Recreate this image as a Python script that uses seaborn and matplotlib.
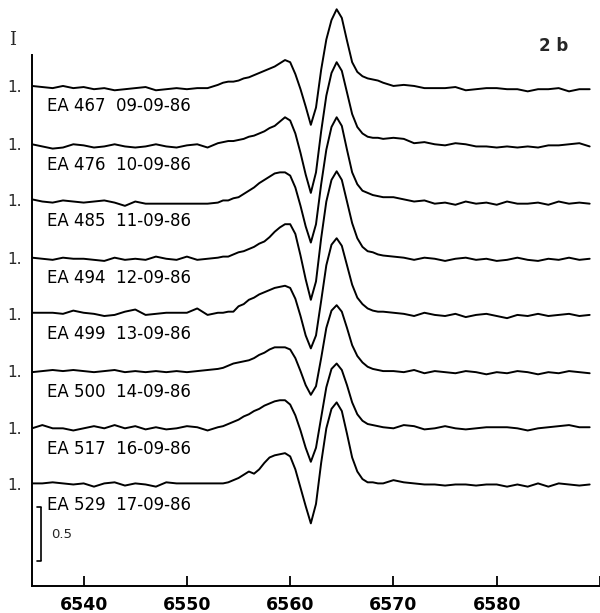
import numpy as np
import pandas as pd
import matplotlib
matplotlib.use("Agg")
import matplotlib.pyplot as plt
import seaborn as sns

# ---------------- data ----------------
wl_left = [6535, 6536, 6537, 6538, 6539, 6540, 6541, 6542, 6543, 6544,
           6545, 6546, 6547, 6548, 6549, 6550, 6551, 6552, 6553]
wl_line = [6553.5, 6554, 6554.5, 6555, 6555.5, 6556, 6556.5, 6557, 6557.5, 6558,
           6558.5, 6559, 6559.5, 6560, 6560.5, 6561, 6561.5, 6562, 6562.5, 6563,
           6563.5, 6564, 6564.5, 6565, 6565.5, 6566, 6566.5, 6567, 6567.5, 6568,
           6568.5, 6569]
wl_right = [6570, 6571, 6572, 6573, 6574, 6575, 6576, 6577, 6578, 6579,
            6580, 6581, 6582, 6583, 6584, 6585, 6586, 6587, 6588, 6589]
wavelength = wl_left + wl_line + wl_right

labels = ["EA 467  09-09-86", "EA 476  10-09-86", "EA 485  11-09-86",
          "EA 494  12-09-86", "EA 499  13-09-86", "EA 500  14-09-86",
          "EA 517  16-09-86", "EA 529  17-09-86"]
offsets = [3.63, 3.09, 2.57, 2.04, 1.52, 0.99, 0.46, -0.06]

ea467 = ([1.00, 0.99, 0.98, 1.00, 0.98, 0.99, 0.97, 0.98, 0.96, 0.97, 0.98, 0.99, 0.96, 0.97, 0.98, 0.97, 0.98, 0.98, 1.01]
         + [1.03, 1.04, 1.04, 1.05, 1.07, 1.08, 1.10, 1.12, 1.14, 1.16, 1.18, 1.21, 1.24, 1.22, 1.11, 0.97, 0.81, 0.64, 0.80, 1.15,
            1.43, 1.61, 1.71, 1.63, 1.42, 1.22, 1.13, 1.09, 1.07, 1.06, 1.05, 1.03]
         + [1.00, 1.01, 1.00, 0.98, 0.98, 0.98, 0.99, 0.96, 0.97, 0.98, 0.98, 0.97, 0.97, 0.95, 0.97, 0.97, 0.98, 0.95, 0.97, 0.97])
ea476 = ([1.00, 0.98, 0.96, 0.97, 1.00, 0.99, 0.97, 0.98, 1.00, 0.98, 0.97, 0.98, 1.00, 0.98, 0.97, 0.99, 1.00, 0.97, 1.01]
         + [1.02, 1.03, 1.03, 1.04, 1.05, 1.07, 1.08, 1.10, 1.12, 1.15, 1.17, 1.21, 1.25, 1.22, 1.10, 0.92, 0.72, 0.55, 0.74, 1.12,
            1.45, 1.66, 1.76, 1.68, 1.48, 1.28, 1.16, 1.10, 1.07, 1.06, 1.06, 1.05]
         + [1.06, 1.05, 1.01, 1.02, 1.00, 0.99, 1.01, 1.00, 0.98, 0.98, 0.97, 0.98, 0.97, 0.98, 0.97, 0.99, 0.99, 1.00, 1.01, 0.98])
ea485 = ([1.01, 0.99, 0.98, 1.00, 0.99, 0.98, 0.99, 1.00, 0.98, 0.95, 0.99, 0.97, 0.97, 0.97, 0.97, 0.97, 0.97, 0.97, 0.98]
         + [1.00, 1.00, 1.02, 1.03, 1.06, 1.09, 1.12, 1.16, 1.19, 1.22, 1.25, 1.26, 1.26, 1.23, 1.12, 0.95, 0.76, 0.61, 0.78, 1.15,
            1.47, 1.68, 1.77, 1.69, 1.47, 1.26, 1.15, 1.09, 1.07, 1.05, 1.04, 1.03]
         + [1.03, 1.01, 0.99, 1.00, 0.97, 0.98, 0.96, 0.99, 0.97, 0.98, 0.96, 0.99, 0.97, 0.97, 0.98, 0.96, 0.99, 0.97, 0.98, 0.97])
ea494 = ([1.00, 0.99, 0.98, 1.00, 0.99, 0.99, 0.98, 0.97, 1.00, 0.98, 0.99, 0.98, 1.01, 0.99, 0.98, 1.01, 0.98, 0.99, 1.00]
         + [1.01, 1.01, 1.03, 1.05, 1.06, 1.08, 1.10, 1.13, 1.15, 1.19, 1.24, 1.28, 1.31, 1.31, 1.22, 1.02, 0.80, 0.61, 0.78, 1.18,
            1.52, 1.72, 1.80, 1.72, 1.52, 1.32, 1.18, 1.10, 1.06, 1.05, 1.03, 1.02]
         + [1.01, 1.00, 0.98, 1.00, 0.99, 0.97, 0.99, 1.00, 0.98, 0.99, 0.97, 0.98, 1.00, 0.98, 0.97, 0.99, 0.98, 1.00, 0.98, 0.99])
ea499 = ([1.01, 1.01, 1.01, 1.00, 1.03, 1.01, 1.00, 0.98, 0.99, 1.02, 1.04, 0.99, 1.00, 1.01, 1.01, 1.01, 1.05, 0.99, 1.01]
         + [1.01, 1.02, 1.02, 1.07, 1.09, 1.13, 1.15, 1.18, 1.20, 1.22, 1.24, 1.25, 1.26, 1.24, 1.14, 0.98, 0.80, 0.68, 0.80, 1.12,
            1.45, 1.64, 1.70, 1.63, 1.45, 1.27, 1.15, 1.09, 1.05, 1.03, 1.02, 1.02]
         + [1.01, 1.00, 0.98, 1.01, 0.99, 0.98, 1.00, 0.97, 0.99, 1.00, 0.98, 0.96, 0.99, 0.98, 1.00, 0.98, 0.99, 1.00, 0.98, 0.99])
ea500 = ([0.99, 1.00, 1.01, 1.00, 1.01, 1.00, 0.99, 1.00, 1.01, 0.99, 1.00, 0.99, 1.00, 0.99, 1.00, 0.99, 1.00, 1.01, 1.02]
         + [1.03, 1.05, 1.07, 1.08, 1.09, 1.10, 1.12, 1.15, 1.17, 1.20, 1.22, 1.22, 1.22, 1.20, 1.12, 1.00, 0.87, 0.78, 0.86, 1.12,
            1.40, 1.56, 1.61, 1.55, 1.40, 1.24, 1.14, 1.08, 1.04, 1.02, 1.01, 1.00]
         + [1.00, 0.99, 1.01, 0.98, 1.00, 0.99, 0.98, 1.00, 0.99, 0.97, 0.99, 0.98, 1.00, 0.99, 0.97, 0.99, 0.98, 1.00, 0.99, 0.98])
ea517 = ([1.00, 1.03, 1.00, 1.00, 0.98, 1.00, 1.02, 1.00, 1.03, 1.00, 1.02, 0.99, 1.01, 0.99, 1.00, 1.02, 1.01, 0.98, 1.01]
         + [1.02, 1.04, 1.06, 1.08, 1.11, 1.13, 1.16, 1.18, 1.21, 1.23, 1.25, 1.26, 1.26, 1.22, 1.12, 0.98, 0.82, 0.69, 0.82, 1.10,
            1.38, 1.55, 1.60, 1.54, 1.40, 1.24, 1.13, 1.07, 1.04, 1.03, 1.02, 1.01]
         + [1.00, 1.03, 1.02, 0.99, 1.00, 1.02, 1.00, 0.99, 1.00, 1.01, 1.01, 1.01, 1.00, 0.98, 1.00, 1.01, 1.02, 1.03, 1.01, 1.01])
ea529 = ([1.01, 1.01, 1.02, 1.01, 1.00, 1.01, 0.98, 1.01, 1.02, 0.99, 1.01, 1.00, 0.98, 1.02, 1.01, 1.01, 1.01, 1.01, 1.01]
         + [1.01, 1.02, 1.04, 1.06, 1.09, 1.12, 1.10, 1.14, 1.20, 1.25, 1.27, 1.28, 1.29, 1.26, 1.14, 0.97, 0.80, 0.64, 0.82, 1.20,
            1.52, 1.70, 1.76, 1.68, 1.47, 1.25, 1.12, 1.05, 1.02, 1.02, 1.01, 1.01]
         + [1.04, 1.02, 1.01, 1.00, 1.00, 0.99, 1.00, 1.00, 0.99, 1.00, 1.00, 0.98, 1.00, 0.98, 1.01, 0.98, 1.01, 1.00, 0.99, 1.00])
spectra = [ea467, ea476, ea485, ea494, ea499, ea500, ea517, ea529]

x_ticks = [6540, 6550, 6560, 6570, 6580, 6590]
x_ticklabels = ["6540", "6550", "6560", "6570", "6580", ""]
scale_bar = 0.5

# ---------------- table ----------------
rows = []
for lab, off, flux in zip(labels, offsets, spectra):
    for w, f in zip(wavelength, flux):
        rows.append({"wavelength": w, "flux": f + off, "spectrum": lab})
df = pd.DataFrame(rows)

# ---------------- plot ----------------
sns.set_theme(style="white")
plt.rcParams["font.family"] = ["DejaVu Sans"]

fig = plt.figure(figsize=(6.0, 6.13), dpi=100)
ax = fig.add_axes([32 / 600, 27 / 613, 568 / 600, 586 / 613])

sns.lineplot(data=df, x="wavelength", y="flux", units="spectrum",
             estimator=None, sort=False, color="black", linewidth=1.4,
             solid_joinstyle="round", solid_capstyle="round", ax=ax)

ax.set_xlim(6535, 6590)
ax.set_ylim(0, 586 / 108)

for s in ["top", "right"]:
    ax.spines[s].set_visible(False)
for s in ["left", "bottom"]:
    ax.spines[s].set_color("black")
    ax.spines[s].set_linewidth(1.4)
ax.spines["left"].set_bounds(0, 4.92)

ax.set_xticks(x_ticks)
ax.set_xticklabels(x_ticklabels, fontsize=12.5, fontweight="bold")
ax.tick_params(axis="x", direction="in", length=7, width=1.3, pad=7,
               bottom=True, colors="black")

cont_levels = [o + 1.0 for o in offsets]
ax.set_yticks(cont_levels)
ax.set_yticklabels(["1."] * len(cont_levels), fontsize=11)
ax.tick_params(axis="y", length=0, pad=7, left=True)

ax.set_xlabel("")
ax.set_ylabel("")
if ax.get_legend() is not None:
    ax.get_legend().remove()

# "I" axis label at top of the y axis
ax.text(-0.035, 4.92 + 0.05, "I", transform=ax.get_yaxis_transform(),
        fontsize=13, family="DejaVu Serif", ha="center", va="bottom")

# spectrum labels
for lab, lvl in zip(labels, cont_levels):
    ax.text(6536.5, lvl - 0.19, lab, fontsize=12, ha="left", va="center",
            color="black")

# panel tag
ax.text(6585.5, 5.0, "2 b", fontsize=12, fontweight="bold", ha="center",
        va="center")

# scale bar (0.5 in intensity units)
bar_x = 6535.85
bar_y0 = 0.23
ax.plot([bar_x, bar_x], [bar_y0, bar_y0 + scale_bar], color="black", lw=1.2,
        solid_capstyle="butt")
ax.plot([bar_x - 0.35, bar_x], [bar_y0, bar_y0], color="black", lw=1.2)
ax.plot([bar_x - 0.35, bar_x], [bar_y0 + scale_bar, bar_y0 + scale_bar],
        color="black", lw=1.2)
ax.text(bar_x + 1.0, bar_y0 + scale_bar / 2, "0.5", fontsize=9.5,
        ha="left", va="center")

fig.savefig("out.png", dpi=100, facecolor="white")
